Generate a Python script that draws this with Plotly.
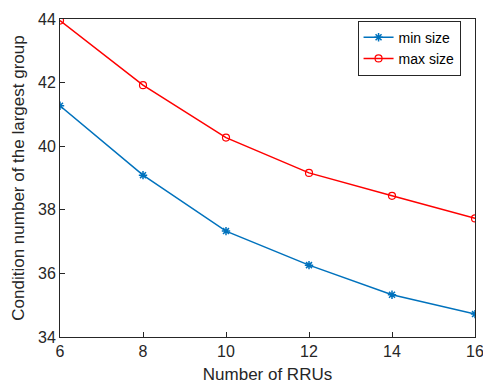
import plotly.graph_objects as go

rrus = [6, 8, 10, 12, 14, 16]
min_size = [41.27, 39.09, 37.33, 36.26, 35.33, 34.72]
max_size = [43.95, 41.92, 40.27, 39.16, 38.44, 37.73]

fig = go.Figure()
fig.add_trace(go.Scatter(x=rrus, y=min_size, mode="lines+markers", name="min size",
                         line=dict(color="#0072BD", width=1.5),
                         marker=dict(symbol="asterisk-open", size=7, color="#0072BD",
                                     line=dict(color="#0072BD", width=1.5))))
fig.add_trace(go.Scatter(x=rrus, y=max_size, mode="lines+markers", name="max size",
                         line=dict(color="#FF0000", width=1.5),
                         marker=dict(symbol="circle-open", size=7, color="#FF0000",
                                     line=dict(color="#FF0000", width=1.2))))

axis_common = dict(showline=True, linecolor="#262626", linewidth=1, mirror=True,
                   ticks="inside", ticklen=5, tickcolor="#262626", showgrid=False,
                   zeroline=False, tickfont=dict(size=16, color="#262626"),
                   ticklabeloverflow="allow", automargin=False)
fig.update_layout(
    width=483, height=388,
    margin=dict(l=60, r=8, t=19, b=51),
    paper_bgcolor="white", plot_bgcolor="white",
    font=dict(family="Liberation Sans, Arial, sans-serif", color="#262626"),
    xaxis=dict(range=[6, 16], tickvals=[6, 8, 10, 12, 14, 16],
               title=dict(text="Number of RRUs", font=dict(size=17), standoff=8), **axis_common),
    yaxis=dict(range=[34, 44], tickvals=[34, 36, 38, 40, 42, 44],
               title=dict(text="Condition number of the largest group", font=dict(size=17), standoff=9),
               **axis_common),
    legend=dict(x=0.717, y=0.995, xanchor="left", yanchor="top",
                bordercolor="#262626", borderwidth=1, bgcolor="white",
                font=dict(size=14, color="black"), tracegroupgap=0, itemwidth=30),
    showlegend=True,
)
fig.write_html("out.html")
